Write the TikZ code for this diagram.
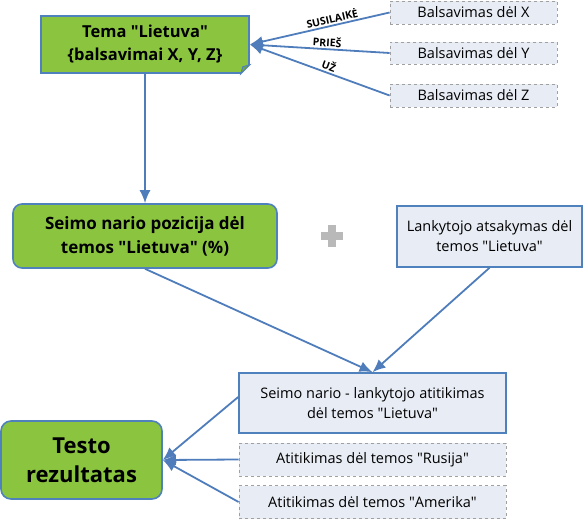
\documentclass[tikz,border=0pt]{standalone}
\usepackage{fontspec}
\setmainfont{Open Sans}
\usetikzlibrary{arrows.meta}

\definecolor{boxgreen}{RGB}{139,197,63}
\definecolor{boxblue}{RGB}{79,129,189}
\definecolor{linkblue}{RGB}{79,125,187}
\definecolor{paleblue}{RGB}{232,236,244}
\definecolor{dashgray}{RGB}{160,160,160}
\newcommand\qq{\textquotedbl}

\begin{document}
\begin{tikzpicture}[x=1pt, y=-1pt,
      every node/.style = {align=center, inner sep=2pt},
      mainbox/.style = {draw=boxblue, line width=1.6pt, fill=boxgreen,
        font=\bfseries\fontsize{16.5}{23}\selectfont},
      solidbox/.style = {draw=boxblue, line width=1.6pt, fill=paleblue,
        font=\fontsize{14.5}{20}\selectfont},
      dashbox/.style = {draw=dashgray, dashed, line width=0.8pt, fill=paleblue,
        font=\fontsize{14.5}{20}\selectfont,
        minimum width=167pt, minimum height=23pt},
      link/.style = {draw=linkblue, line width=1.8pt,
        -{Latex[length=13pt,width=11pt]}},
      vote/.style = {font=\bfseries\fontsize{10.5}{12}\selectfont, sloped,
        above, inner sep=1.5pt}]
      \useasboundingbox (0,0) rectangle (583,519);

      % top: topic and votes
      \node[mainbox, minimum width=208pt, minimum height=57pt] (tema)
        at (145,44.5) {Tema \qq Lietuva\qq\\{\{}balsavimai X, Y, Z{\}}};
      \fill[white] ([xshift=-9pt]tema.south east) -- (tema.south east)
        -- ([yshift=9pt]tema.south east) -- cycle;
      \draw[boxblue, line width=1pt, fill=boxgreen!85!black]
        ([xshift=-9pt]tema.south east) -- ([yshift=9pt]tema.south east)
        -- ([xshift=-7pt,yshift=7pt]tema.south east) -- cycle;
      \node[dashbox] (balsx) at (473.5,12.5) {Balsavimas dėl X};
      \node[dashbox, minimum height=22pt] (balsy) at (473.5,53) {Balsavimas dėl Y};
      \node[dashbox] (balsz) at (473.5,95.5) {Balsavimas dėl Z};
      \draw[link] (balsx.west) -- node[vote, pos=0.4] {SUSILAIKĖ} (tema.east);
      \draw[link] (balsy.west) -- node[vote, pos=0.45] {PRIEŠ} (tema.east);
      \draw[link] (balsz.west) -- node[vote, pos=0.45] {UŽ} (tema.east);

      % middle: position and answer
      \node[mainbox, rounded corners=9pt, minimum width=264pt,
        minimum height=64pt, font=\bfseries\fontsize{17}{24}\selectfont] (seimas)
        at (145,236) {Seimo nario pozicija dėl\\temos \qq Lietuva\qq{} (\%)};
      \draw[link] (tema.south) -- (seimas.north);
      \fill[gray!55] (321,232) rectangle (343,240);
      \fill[gray!55] (328,225) rectangle (336,247);
      \node[solidbox, minimum width=185pt, minimum height=61pt] (lankytojas)
        at (489.5,236.5) {Lankytojo atsakymas dėl\\temos \qq Lietuva\qq};

      % bottom: matches and result
      \node[solidbox, minimum width=267pt, minimum height=60pt] (atit)
        at (372.5,403) {Seimo nario - lankytojo atitikimas\\dėl temos \qq Lietuva\qq};
      \draw[link] (seimas.south) -- (atit.north);
      \draw[link] (lankytojas.south) -- (atit.north);
      \node[dashbox, minimum width=267pt, minimum height=33pt] (rusija)
        at (372.5,459.5) {Atitikimas dėl temos \qq Rusija\qq};
      \node[dashbox, minimum width=267pt, minimum height=33pt] (amerika)
        at (372.5,502) {Atitikimas dėl temos \qq Amerika\qq};
      \node[mainbox, rounded corners=10pt, minimum width=161pt,
        minimum height=78pt, font=\bfseries\fontsize{22}{29}\selectfont] (testas)
        at (81.5,460) {Testo\\rezultatas};
      \draw[link] ([yshift=6pt]atit.west) -- (testas.east);
      \draw[link] (rusija.west) -- (testas.east);
      \draw[link] (amerika.west) -- (testas.east);
  \end{tikzpicture}
\end{document}
